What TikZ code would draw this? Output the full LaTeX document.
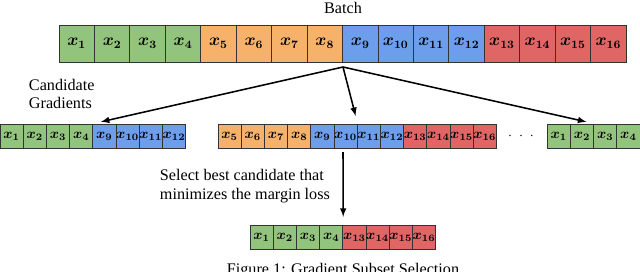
\documentclass[tikz,border=0pt]{standalone}
\usepackage{amsmath}
\usepackage{fontspec}
\setmainfont{Liberation Serif}
\usetikzlibrary{positioning}
\definecolor{cgreen}{HTML}{93C47D}
\definecolor{corange}{HTML}{F6B26B}
\definecolor{cblue}{HTML}{6D9EEB}
\definecolor{cred}{HTML}{E06666}

\begin{document}
\begin{tikzpicture}[
    x=0.025cm, y=-0.025cm,
    big/.style={draw=black!80, line width=0.6pt, minimum width=0.886cm, minimum height=0.925cm, inner sep=0pt, font=\large},
    small/.style={draw=black!80, line width=0.6pt, minimum width=0.58cm, minimum height=0.6cm, inner sep=0pt},
    txt/.style={font=\fontsize{11.5}{13.2}\selectfont},
    flow/.style={->, >=latex, line width=1.1pt}
]
\clip (0,0) rectangle (640,271);

\node[txt] (batch) at (343,8) {Batch};
\foreach \n/\c in {1/cgreen,2/cgreen,3/cgreen,4/cgreen,5/corange,6/corange,7/corange,8/corange,
                   9/cblue,10/cblue,11/cblue,12/cblue,13/cred,14/cred,15/cred,16/cred}
    \node[big, fill=\c] (t\n) at ({59+35.44*(\n-0.5)},43.5) {$\boldsymbol{x_{\n}}$};

\node[txt, align=left, anchor=west] (cand) at (24,94) {Candidate\\Gradients};
\foreach \n/\c [count=\j] in {1/cgreen,2/cgreen,3/cgreen,4/cgreen,9/cblue,10/cblue,11/cblue,12/cblue}
    \node[small, fill=\c] (l\j) at ({23.2*(\j-0.5)},136) {$\boldsymbol{x_{\n}}$};
\foreach \n/\c [count=\j] in {5/corange,6/corange,7/corange,8/corange,9/cblue,10/cblue,11/cblue,12/cblue,
                              13/cred,14/cred,15/cred,16/cred}
    \node[small, fill=\c] (m\j) at ({218+23.2*(\j-0.5)},136) {$\boldsymbol{x_{\n}}$};
\node (dots) at (521,136) {$\cdot\;\cdot\;\cdot$};
\foreach \n/\c [count=\j] in {1/cgreen,2/cgreen,3/cgreen,4/cgreen}
    \node[small, fill=\c] (r\j) at ({547.2+23.2*(\j-0.5)},136) {$\boldsymbol{x_{\n}}$};

\node[txt, align=left, anchor=west] (select) at (155,186) {Select best candidate that\\minimizes the margin loss};
\foreach \n/\c [count=\j] in {1/cgreen,2/cgreen,3/cgreen,4/cgreen,13/cred,14/cred,15/cred,16/cred}
    \node[small, fill=\c] (b\j) at ({250+23.2*(\j-0.5)},237) {$\boldsymbol{x_{\n}}$};

\coordinate (split) at (343,67);
\coordinate (pick) at (343,152);
\draw[flow, shorten >=5.5pt] (split) -- (l4.north east);
\draw[flow, shorten >=5.5pt] (split) -- (m6.north east);
\draw[flow, shorten >=5.5pt] (split) -- (r2.north east);
\draw[flow, shorten >=5.5pt] (pick) -- (b4.north east);

\node[txt, anchor=base] (caption) at (343,274) {Figure 1: Gradient Subset Selection};
\end{tikzpicture}
\end{document}
